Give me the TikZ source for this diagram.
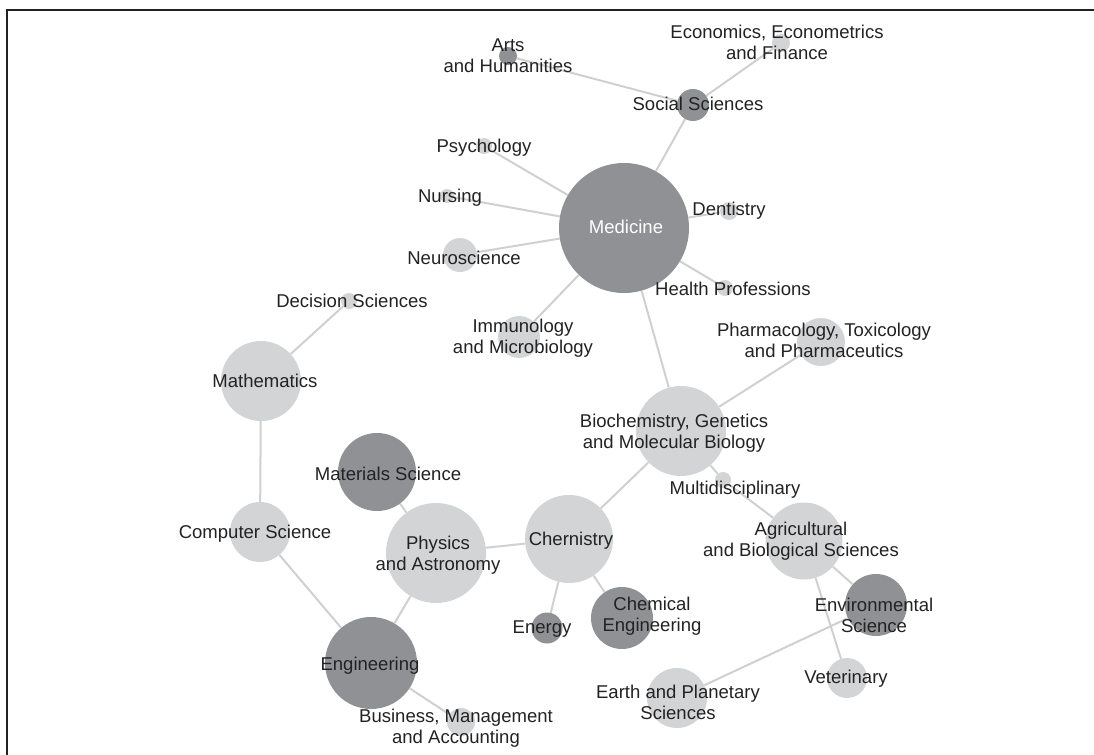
\documentclass[tikz,border=0pt]{standalone}
\usepackage{fontspec}
\setmainfont{Liberation Sans}
\usetikzlibrary{backgrounds}
\definecolor{darkdot}{HTML}{909194}
\definecolor{lightdot}{HTML}{D3D4D6}
\definecolor{linkgray}{HTML}{D0D0D0}
\definecolor{inkgray}{HTML}{222222}
\tikzset{
  dot/.style={circle, inner sep=0pt, minimum size=#1},
  dark/.style={dot=#1, fill=darkdot},
  light/.style={dot=#1, fill=lightdot},
  lab/.style={align=center, text=inkgray, inner sep=0pt,
    font=\fontsize{18.6}{21}\selectfont},
  link/.style={draw=linkgray, line width=2bp},
}
\begin{document}
\begin{tikzpicture}[x=1bp, y=-1bp]
      \useasboundingbox (0,0) rectangle (1094,755);
      \draw[line width=2bp, inkgray] (1094,10) -- (7,10) -- (7,755);
      \path
        (508,56) node[dark=18bp] (arts){}
        (781,43) node[light=18bp] (econ){}
        (693,105) node[dark=32bp] (soc){}
        (484,146) node[light=16bp] (psy){}
        (447,196) node[light=14bp] (nurs){}
        (460,255) node[light=34bp] (neuro){}
        (624,228) node[dark=130bp] (med){}
        (729,211) node[light=18bp] (dent){}
        (725,288) node[light=16bp] (health){}
        (519,337) node[light=42bp] (immu){}
        (349,301) node[light=16bp] (dec){}
        (261,381) node[light=80bp] (math){}
        (821,342) node[light=48bp] (pharm){}
        (681,431) node[light=90bp] (bio){}
        (723,480) node[light=16bp] (multi){}
        (377,472) node[dark=78bp] (mat){}
        (260,532) node[light=60bp] (comp){}
        (436,553) node[light=100bp] (phys){}
        (569,539) node[light=88bp] (chem){}
        (804,541) node[light=77bp] (agri){}
        (547,628) node[dark=31bp] (energy){}
        (622,618) node[dark=62bp] (cheng){}
        (876,605) node[dark=62bp] (env){}
        (371,663) node[dark=92bp] (eng){}
        (847,678) node[light=40bp] (vet){}
        (677,698) node[light=60bp] (earth){}
        (461,722) node[light=28bp] (bus){};
      \begin{scope}[on background layer]
        \begin{scope}[every path/.style=link]
          \draw (arts) to (soc);
          \draw (econ) to (soc);
          \draw (soc) to (med);
          \draw (psy) to (med);
          \draw (nurs) to (med);
          \draw (neuro) to (med);
          \draw (dent) to (med);
          \draw (health) to (med);
          \draw (immu) to (med);
          \draw (med) to (bio);
          \draw (pharm) to (bio);
          \draw (bio) to (chem);
          \draw (bio) to (multi);
          \draw (multi) to (agri);
          \draw (dec) to (math);
          \draw (math) to (comp);
          \draw (comp) to (eng);
          \draw (mat) to (phys);
          \draw (phys) to (chem);
          \draw (phys) to (eng);
          \draw (chem) to (energy);
          \draw (chem) to (cheng);
          \draw (agri) to (env);
          \draw (agri) to (vet);
          \draw (env) to (earth);
          \draw (eng) to (bus);
        \end{scope}
      \end{scope}
      % labels
      \path[lab]
        (508,56) node (arts-t){Arts\\and Humanities}
        (777,42) node (econ-t){Economics, Econometrics\\and Finance}
        (698,110) node[anchor=base] (soc-t){Social Sciences}
        (484,152) node[anchor=base] (psy-t){Psychology}
        (450,202) node[anchor=base] (nurs-t){Nursing}
        (464,264) node[anchor=base] (neuro-t){Neuroscience}
        (626,233) node[anchor=base, text=white] (med-t){Medicine}
        (729,215) node[anchor=base] (dent-t){Dentistry}
        (733,295) node[anchor=base] (health-t){Health Professions}
        (523,338) node (immu-t){Immunology\\and Microbiology}
        (352,307) node[anchor=base] (dec-t){Decision Sciences}
        (265,387) node[anchor=base] (math-t){Mathematics}
        (824,340) node (pharm-t){Pharmacology, Toxicology\\and Pharmaceutics}
        (674,433) node (bio-t){Biochemistry, Genetics\\and Molecular Biology}
        (735,494) node[anchor=base] (multi-t){Multidisciplinary}
        (388,480) node[anchor=base] (mat-t){Materials Science}
        (255,538) node[anchor=base] (comp-t){Computer Science}
        (438,555) node (phys-t){Physics\\and Astronomy}
        (571,545) node[anchor=base] (chem-t){Chernistry}
        (801,541) node (agri-t){Agricultural\\and Biological Sciences}
        (542,633) node[anchor=base] (energy-t){Energy}
        (652,616) node (cheng-t){Chemical\\Engineering}
        (874,615) node (env-t){Environmental\\Science}
        (370,670) node[anchor=base] (eng-t){Engineering}
        (846,683) node[anchor=base] (vet-t){Veterinary}
        (678,702) node (earth-t){Earth and Planetary\\Sciences}
        (456,728) node (bus-t){Business, Management\\and Accounting};
    \end{tikzpicture}
\end{document}
